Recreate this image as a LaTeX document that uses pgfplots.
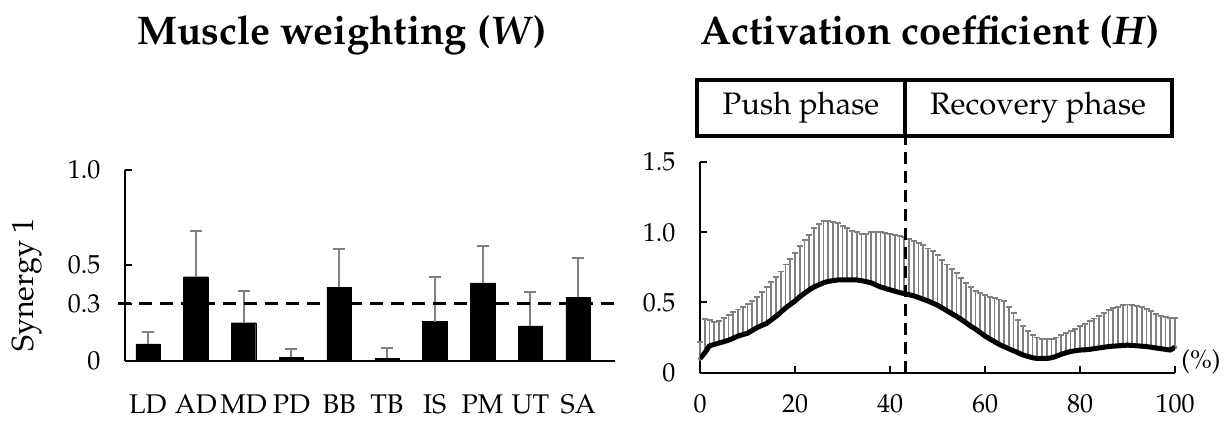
\documentclass[border=0pt]{standalone}
\usepackage[T1]{fontenc}
\usepackage{mathpazo}
\usepackage{pgfplots}
\usepackage{pgfplotstable}
\pgfplotsset{compat=1.18}

% muscle weighting, synergy 1: mean and mean+SD
\pgfplotstableread{
x y u
0 0.090 0.150
1 0.440 0.680
2 0.200 0.365
3 0.020 0.064
4 0.386 0.587
5 0.014 0.069
6 0.206 0.441
7 0.408 0.602
8 0.183 0.360
9 0.334 0.540
}\wdata

% activation coefficient: mean and mean+SD over the cycle (%)
\pgfplotstableread{
x m u
0 0.100 0.220
1 0.140 0.380
2 0.190 0.375
3 0.200 0.360
4 0.210 0.370
5 0.220 0.390
6 0.230 0.410
7 0.245 0.430
8 0.260 0.450
9 0.270 0.470
10 0.280 0.490
11 0.300 0.510
12 0.320 0.540
13 0.335 0.575
14 0.350 0.610
15 0.375 0.645
16 0.400 0.680
17 0.430 0.720
18 0.460 0.770
19 0.485 0.810
20 0.510 0.855
21 0.540 0.900
22 0.565 0.945
23 0.590 0.980
24 0.610 1.030
25 0.625 1.060
26 0.640 1.080
27 0.650 1.080
28 0.655 1.075
29 0.660 1.065
30 0.660 1.045
31 0.660 1.030
32 0.660 1.010
33 0.660 1.000
34 0.655 0.990
35 0.648 0.990
36 0.640 1.000
37 0.625 1.005
38 0.610 1.000
39 0.600 0.995
40 0.590 0.990
41 0.580 0.980
42 0.570 0.975
43 0.563 0.965
44 0.555 0.950
45 0.547 0.940
46 0.535 0.925
47 0.522 0.910
48 0.510 0.885
49 0.495 0.865
50 0.480 0.840
51 0.460 0.805
52 0.440 0.770
53 0.420 0.740
54 0.400 0.710
55 0.378 0.675
56 0.355 0.640
57 0.330 0.610
58 0.310 0.580
59 0.285 0.565
60 0.260 0.555
61 0.240 0.540
62 0.220 0.530
63 0.200 0.520
64 0.185 0.510
65 0.170 0.470
66 0.155 0.425
67 0.140 0.375
68 0.125 0.330
69 0.115 0.295
70 0.105 0.270
71 0.100 0.250
72 0.100 0.240
73 0.100 0.240
74 0.105 0.240
75 0.115 0.250
76 0.130 0.265
77 0.140 0.280
78 0.150 0.295
79 0.155 0.310
80 0.160 0.330
81 0.162 0.345
82 0.165 0.365
83 0.170 0.385
84 0.175 0.405
85 0.180 0.425
86 0.185 0.445
87 0.188 0.460
88 0.190 0.470
89 0.193 0.480
90 0.195 0.485
91 0.193 0.482
92 0.190 0.475
93 0.188 0.465
94 0.185 0.455
95 0.180 0.440
96 0.175 0.420
97 0.170 0.405
98 0.165 0.395
99 0.160 0.390
100 0.180 0.390
}\actdata

\pgfplotsset{
  myaxis/.style={
    scale only axis, anchor=south west, clip=false,
    axis lines=left, enlargelimits=false,
    axis line style={-, line width=2pt},
    tick align=inside, major tick length=7pt,
    every tick/.style={black, line width=2pt},
    tick label style={font=\fontsize{26}{30}\selectfont},
    /pgf/number format/assume math mode=true,
  },
  actaxis/.style={
    at={(700pt,48.5pt)}, width=475pt, height=210.3pt,
    xmin=0, xmax=100, ymin=0, ymax=1.5,
  },
}

\begin{document}
\begin{tikzpicture}
\path[use as bounding box] (0,0) rectangle (1229pt,421pt);

% left: muscle weighting
\begin{axis}[myaxis,
  at={(125pt,60pt)}, width=490pt, height=191.5pt,
  xmin=-0.48, xmax=9.77, ymin=0, ymax=1,
  ybar, bar width=0.51,
  ytick={0,0.3,0.5,1}, yticklabels={0,0.3,0.5,1.0},
  yticklabel style={xshift=-21pt},
  xtick={0,...,9},
  xticklabels={LD,AD,MD,PD,BB,TB,IS,PM,UT,SA},
  major x tick style={draw=none},
  xticklabel style={font=\fontsize{27}{30}\selectfont, yshift=-23pt},
]
\addplot[fill=black, draw=black,
  error bars/.cd, y dir=plus, y explicit,
  error bar style={line width=2pt, black!50},
  error mark options={rotate=90, line width=2pt, black!50, mark size=6pt}]
  table[x=x, y=y, y error expr=\thisrow{u}-\thisrow{y}] {\wdata};
\draw[line width=3pt, dash pattern=on 13pt off 8pt]
  (axis cs:-0.63,0.3) -- (axis cs:9.81,0.3);
\end{axis}

% right: activation coefficient, SD bars
\begin{axis}[myaxis, actaxis,
  xtick={0,20,...,100},
  ytick={0,0.5,1,1.5}, yticklabels={0,0.5,1.0,1.5},
  yticklabel style={xshift=-21pt},
  xticklabel style={yshift=-18pt},
]
\addplot[black!50, only marks, mark=none,
  error bars/.cd, y dir=plus, y explicit,
  error bar style={line width=1.8pt, black!50},
  error mark options={rotate=90, line width=1.8pt, black!50, mark size=3pt}]
  table[x=x, y=m, y error expr=\thisrow{u}-\thisrow{m}] {\actdata};
\draw[line width=3pt, dash pattern=on 12pt off 7pt]
  (axis cs:43.3,0) -- (axis cs:43.3,1.687);
\end{axis}

% same axis again so the mean line lies over the SD bars
\begin{axis}[actaxis, scale only axis, anchor=south west,
  enlargelimits=false, hide axis]
\addplot[black, line width=5pt, mark=none, line join=round]
  table[x=x, y=m] {\actdata};
\end{axis}

% titles, labels and the phase box
\node[anchor=base, font=\fontsize{40}{48}\selectfont\bfseries]
  at (342pt,376pt) {Muscle weighting (\textit{W})};
\node[anchor=base, font=\fontsize{40}{48}\selectfont\bfseries]
  at (930pt,376pt) {Activation coefficient (\textit{H})};
\node[rotate=90, anchor=base, font=\fontsize{30.5}{34}\selectfont]
  at (33pt,136pt) {Synergy 1};
\node[font=\fontsize{26}{30}\selectfont] at (1201pt,59pt) {(\%)};
\draw[line width=4pt] (697pt,285pt) rectangle (1172pt,341pt);
\draw[line width=4pt] (905pt,285pt) -- (905pt,341pt);
\node[font=\fontsize{31}{34}\selectfont] at (801pt,313pt) {Push phase};
\node[font=\fontsize{31}{34}\selectfont] at (1038pt,313pt) {Recovery phase};
\end{tikzpicture}
\end{document}
